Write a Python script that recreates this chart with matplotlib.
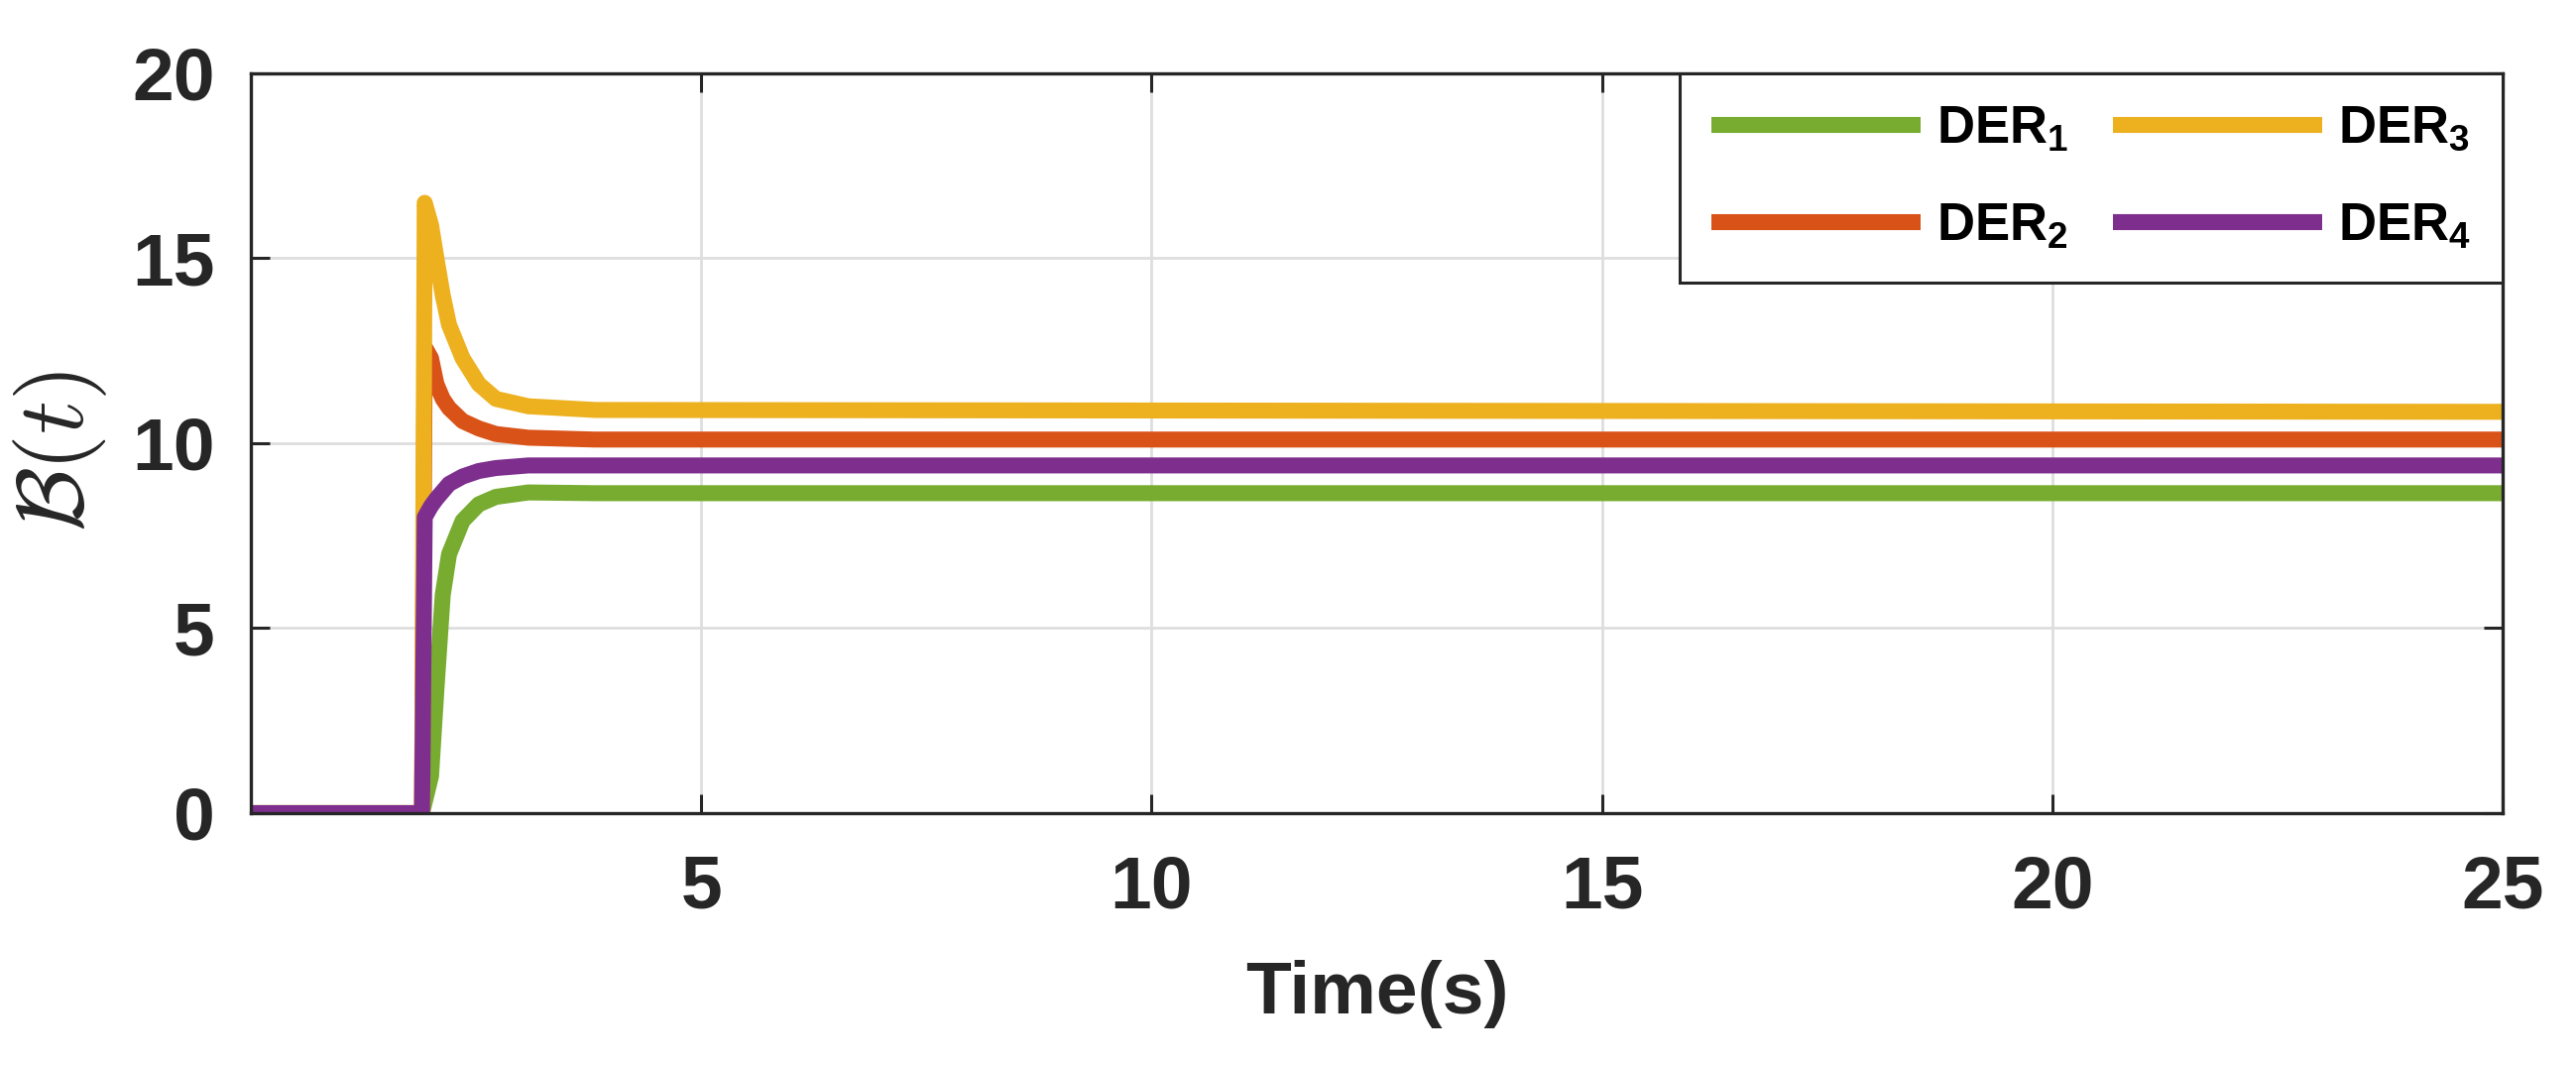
import matplotlib
matplotlib.use("Agg")
import matplotlib.pyplot as plt

plt.rcParams['font.family'] = ['Liberation Sans', 'DejaVu Sans']
plt.rcParams['mathtext.fontset'] = 'custom'
plt.rcParams['mathtext.rm'] = 'Liberation Sans:bold'
plt.rcParams['mathtext.bf'] = 'Liberation Sans:bold'

# time points (s)
t = [0, 1.9, 1.93, 2.0, 2.06, 2.13, 2.2, 2.35, 2.53, 2.72, 3.08, 3.82, 25]

der1 = [0, 0, 0.3, 1.0, 3.35, 5.9, 7.0, 7.9, 8.35, 8.55, 8.67, 8.65, 8.65]
der2 = [0, 0, 12.6, 12.3, 11.6, 11.2, 10.95, 10.6, 10.4, 10.25, 10.15, 10.1, 10.1]
der3 = [0, 0, 16.5, 15.9, 15.0, 14.0, 13.2, 12.3, 11.6, 11.2, 11.0, 10.9, 10.85]
der4 = [0, 0, 8.0, 8.3, 8.5, 8.7, 8.9, 9.1, 9.25, 9.33, 9.4, 9.4, 9.4]

labels = [r'DER$_{\mathbf{1}}$', r'DER$_{\mathbf{2}}$', r'DER$_{\mathbf{3}}$', r'DER$_{\mathbf{4}}$']
colors = ['#77AC30', '#D95319', '#EDB120', '#7E2F8E']
xticks = [5, 10, 15, 20, 25]
yticks = [0, 5, 10, 15, 20]

fig = plt.figure(figsize=(12.99, 5.37), dpi=200)
ax = fig.add_axes([0.0974, 0.2365, 0.8741, 0.6946])

for y, c, lab in zip([der1, der2, der3, der4], colors, labels):
    ax.plot(t, y, color=c, lw=5.8, label=lab, solid_joinstyle='round', solid_capstyle='butt')

ax.set_xlim(0, 25)
ax.set_ylim(0, 20)
ax.set_xticks(xticks)
ax.set_yticks(yticks)
ax.grid(True, color='#dedede', lw=1.0)
ax.set_axisbelow(True)
ax.tick_params(direction='in', length=7, width=1.1, top=True, right=True,
               labelsize=27, colors='#262626')
ax.tick_params(axis='x', pad=15)
ax.tick_params(axis='y', pad=13)
for lbl in ax.get_xticklabels() + ax.get_yticklabels():
    lbl.set_fontweight('bold')
for s in ax.spines.values():
    s.set_linewidth(1.2)
    s.set_color('#262626')

ax.set_xlabel('Time(s)', fontsize=27, fontweight='bold', color='#262626')
ax.xaxis.set_label_coords(0.5, -0.198)
ax.set_ylabel(r'$\mathcal{B}(t)$', fontsize=34, math_fontfamily='cm', color='#262626')
ax.yaxis.set_label_coords(-0.063, 0.49)

leg = ax.legend(ncol=2, loc='upper right', borderaxespad=0, fancybox=False,
                framealpha=1, edgecolor='#262626', handlelength=4.0, handletextpad=0.3,
                columnspacing=0.85, labelspacing=0.9, borderpad=0.6,
                prop={'family': 'Liberation Sans', 'weight': 'bold', 'size': 19})
leg.get_frame().set_linewidth(1.1)

fig.savefig('out.png', dpi=200)
